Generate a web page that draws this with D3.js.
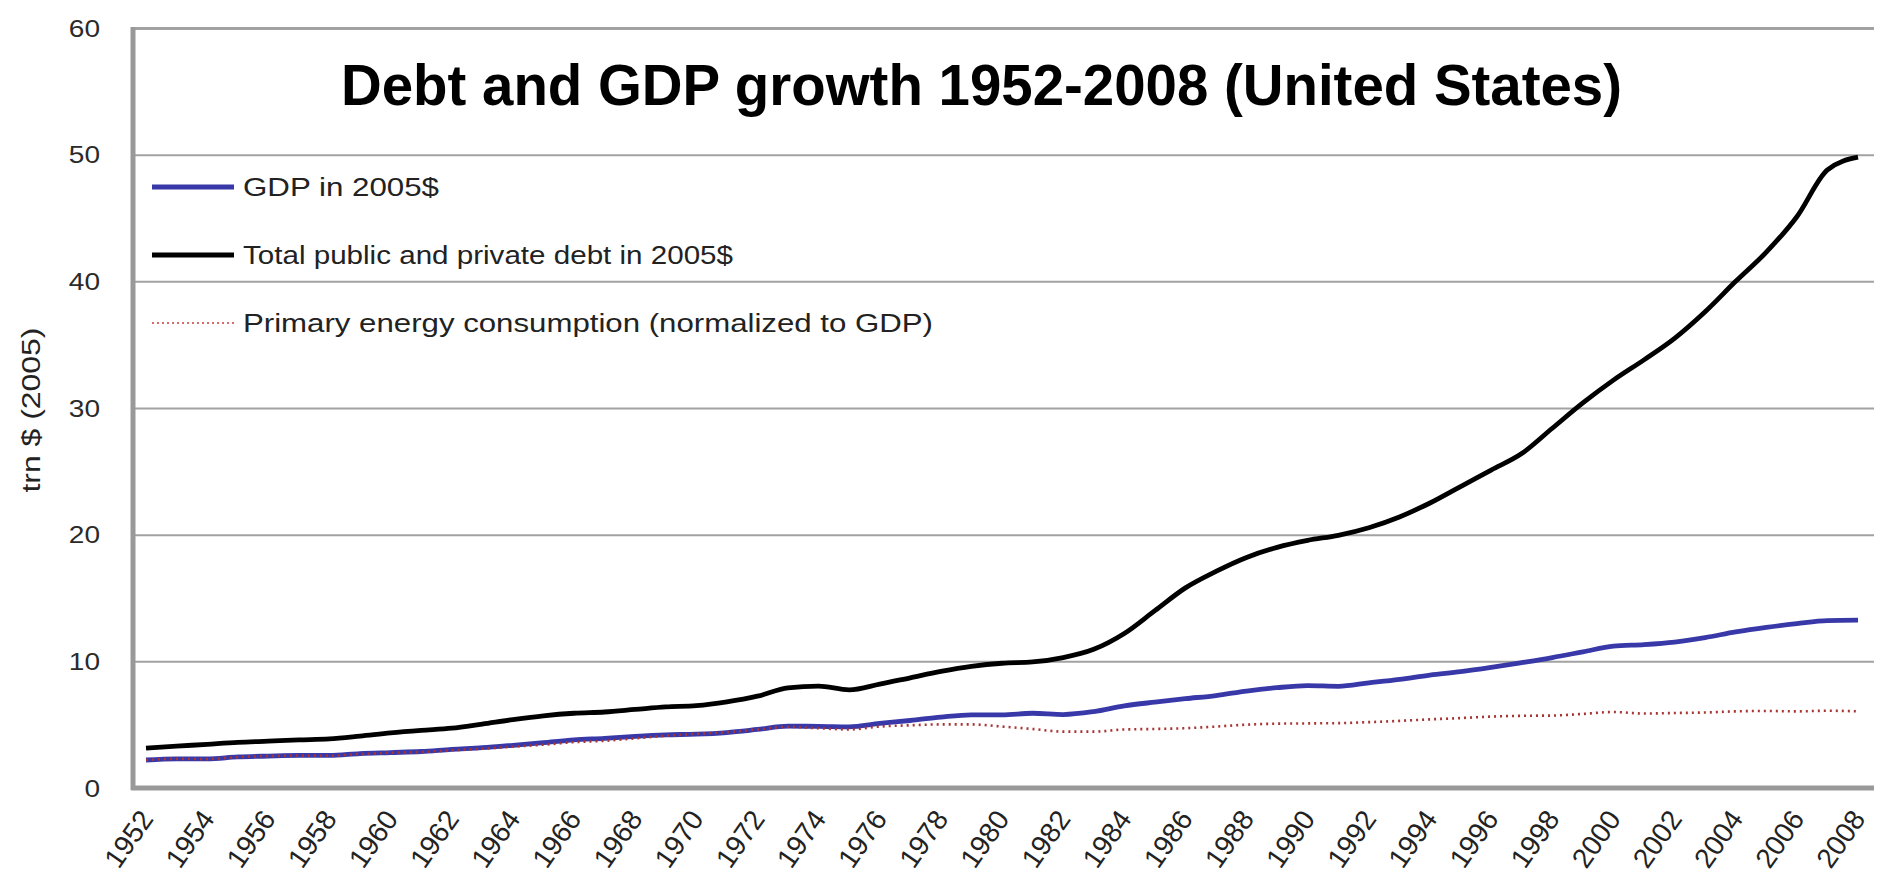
<!DOCTYPE html>
<html>
<head>
<meta charset="utf-8">
<script src="https://cdn.jsdelivr.net/npm/d3@7"></script>
<style>
  html, body { margin: 0; padding: 0; background: #fff; }
  svg { display: block; }
  text { font-family: "Liberation Sans", Arial, sans-serif; }
</style>
</head>
<body>
<svg id="chart" width="1881" height="883"></svg>
<script>
const years = [1952,1953,1954,1955,1956,1957,1958,1959,1960,1961,1962,1963,1964,1965,1966,1967,1968,1969,1970,1971,1972,1973,1974,1975,1976,1977,1978,1979,1980,1981,1982,1983,1984,1985,1986,1987,1988,1989,1990,1991,1992,1993,1994,1995,1996,1997,1998,1999,2000,2001,2002,2003,2004,2005,2006,2007,2008];

const gdp = [2.21,2.30,2.30,2.45,2.52,2.57,2.57,2.72,2.80,2.88,3.05,3.18,3.37,3.58,3.80,3.92,4.08,4.20,4.25,4.38,4.62,4.88,4.87,4.83,5.10,5.33,5.60,5.78,5.78,5.90,5.80,6.03,6.48,6.78,7.05,7.30,7.65,7.92,8.08,8.03,8.30,8.58,8.92,9.18,9.52,9.90,10.30,10.75,11.20,11.32,11.52,11.88,12.32,12.68,12.98,13.22,13.25];

const debt = [3.15,3.30,3.45,3.60,3.70,3.80,3.88,4.10,4.35,4.55,4.72,5.05,5.40,5.70,5.90,6.00,6.20,6.40,6.50,6.80,7.25,7.90,8.05,7.75,8.20,8.70,9.20,9.60,9.85,9.95,10.30,10.95,12.20,14.00,15.80,17.10,18.20,19.00,19.55,19.95,20.55,21.40,22.50,23.80,25.10,26.40,28.40,30.40,32.20,33.80,35.50,37.60,40.00,42.30,45.10,48.80,49.80];

const energy = [2.21,2.30,2.28,2.44,2.52,2.56,2.55,2.68,2.78,2.84,2.98,3.10,3.26,3.42,3.62,3.72,3.92,4.12,4.28,4.40,4.62,4.82,4.72,4.62,4.85,4.95,5.02,5.02,4.85,4.66,4.45,4.45,4.62,4.66,4.72,4.85,5.00,5.08,5.10,5.12,5.20,5.30,5.42,5.52,5.64,5.70,5.72,5.85,6.00,5.88,5.92,5.96,6.05,6.08,6.05,6.10,6.05];

const yTicks = [0,10,20,30,40,50,60];
const xTickYears = [1952,1954,1956,1958,1960,1962,1964,1966,1968,1970,1972,1974,1976,1978,1980,1982,1984,1986,1988,1990,1992,1994,1996,1998,2000,2002,2004,2006,2008];

const titleText = "Debt and GDP growth 1952-2008 (United States)";
const yAxisTitle = "trn $ (2005)";
const seriesNames = ["GDP in 2005$", "Total public and private debt in 2005$", "Primary energy consumption (normalized to GDP)"];

const svg = d3.select("#chart");
const plot = { left: 133, right: 1874, top: 28, bottom: 788 };
const x = d3.scaleLinear().domain([1952, 2008]).range([146, 1858]);
const y = d3.scaleLinear().domain([0, 60]).range([plot.bottom, plot.top]);
const SX = 1.22; // horizontal stretch of the reference image

function stretch(sel, factor) {
  sel.each(function() {
    const len = this.getComputedTextLength();
    d3.select(this).attr("textLength", len * factor).attr("lengthAdjust", "spacingAndGlyphs");
  });
}

// gridlines
const grid = svg.append("g").attr("transform", `translate(${plot.left},0)`)
  .call(d3.axisLeft(y).tickValues(yTicks.filter(d => d > 0)).tickSize(-(plot.right - plot.left)).tickFormat(""));
grid.select(".domain").remove();
grid.selectAll(".tick line").attr("stroke", "#a2a2a2").attr("stroke-width", d => d === 60 ? 3 : 2);

// left axis line
svg.append("line").attr("x1", plot.left).attr("x2", plot.left).attr("y1", plot.top - 1).attr("y2", plot.bottom + 2)
  .attr("stroke", "#999").attr("stroke-width", 5);
// bottom axis line
svg.append("line").attr("x1", plot.left - 2).attr("x2", plot.right).attr("y1", plot.bottom).attr("y2", plot.bottom)
  .attr("stroke", "#999").attr("stroke-width", 5);

// y tick labels
const yAxis = svg.append("g").attr("transform", "translate(100,0)")
  .call(d3.axisLeft(y).tickValues(yTicks).tickSize(0).tickPadding(0).tickFormat(d3.format("d")));
yAxis.select(".domain").remove();
yAxis.selectAll("text").attr("font-size", 23).attr("fill", "#2a2a2a").attr("x", 0)
  .attr("font-family", "'Liberation Sans', Arial, sans-serif").attr("text-anchor", "end").attr("dy", "0.36em");
stretch(yAxis.selectAll("text"), SX);

// x tick labels
const xAxis = svg.append("g").attr("transform", `translate(0,${plot.bottom})`)
  .call(d3.axisBottom(x).tickValues(xTickYears).tickSize(0).tickPadding(0).tickFormat(d3.format("d")));
xAxis.select(".domain").remove();
xAxis.selectAll("text").attr("font-size", 28).attr("fill", "#222").attr("y", 0).attr("dy", 0).attr("x", 0)
  .attr("font-family", "'Liberation Sans', Arial, sans-serif")
  .attr("text-anchor", "end").attr("transform", "translate(8,31) rotate(-55)");

// y axis title
svg.append("text").attr("transform", "translate(40,410) rotate(-90)")
  .attr("text-anchor", "middle").attr("font-size", 26).attr("fill", "#222")
  .attr("textLength", 165).attr("lengthAdjust", "spacingAndGlyphs")
  .text(yAxisTitle);

// title
svg.append("text").attr("x", 341).attr("y", 105)
  .attr("font-size", 58).attr("font-weight", "bold").attr("fill", "#000")
  .attr("textLength", 1281).attr("lengthAdjust", "spacingAndGlyphs")
  .text(titleText);

// series lines
const line = d3.line().x(d => x(d[0])).y(d => y(d[1])).curve(d3.curveMonotoneX);
const zipped = arr => years.map((yr, i) => [yr, arr[i]]);

svg.append("path").datum(zipped(gdp)).attr("d", line)
  .attr("fill", "none").attr("stroke", "#3838a8").attr("stroke-width", 4.8).attr("stroke-linejoin", "round");
svg.append("path").datum(zipped(debt)).attr("d", line)
  .attr("fill", "none").attr("stroke", "#000").attr("stroke-width", 4.8).attr("stroke-linejoin", "round");
svg.append("path").datum(zipped(energy)).attr("d", line)
  .attr("fill", "none").attr("stroke", "#a83434").attr("stroke-width", 2.6).attr("stroke-dasharray", "2,4");

// legend
const legendItems = [
  { name: seriesNames[0], color: "#3838a8", width: 4.8, dash: null, y: 187, len: 196 },
  { name: seriesNames[1], color: "#000", width: 4.8, dash: null, y: 255, len: 490 },
  { name: seriesNames[2], color: "#d86a6a", width: 2.2, dash: "2,3", y: 323, len: 690 }
];
const lg = svg.append("g");
legendItems.forEach(it => {
  lg.append("line").attr("x1", 152).attr("x2", 234).attr("y1", it.y).attr("y2", it.y)
    .attr("stroke", it.color).attr("stroke-width", it.width).attr("stroke-dasharray", it.dash);
  lg.append("text").attr("x", 243).attr("y", it.y).attr("dy", "0.36em")
    .attr("font-size", 25).attr("fill", "#222")
    .attr("textLength", it.len).attr("lengthAdjust", "spacingAndGlyphs")
    .text(it.name);
});
</script>
</body>
</html>
